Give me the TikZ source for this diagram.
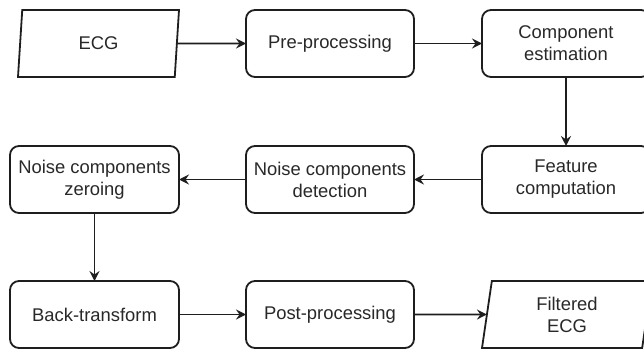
\documentclass[tikz,border=0pt]{standalone}
\usepackage{fontspec}
\setmainfont{Liberation Sans}
\usetikzlibrary{arrows.meta,shapes.geometric}
\definecolor{linecol}{RGB}{30,30,30}
\definecolor{textcol}{RGB}{40,40,40}
\begin{document}
\begin{tikzpicture}[x=1pt,y=-1pt,
  lbl/.style={align=center, text=textcol, font=\fontsize{18.4}{22}\selectfont},
  box/.style={lbl, draw=linecol, line width=1.8pt, rounded corners=9pt,
    minimum width=168pt, minimum height=67pt, inner sep=2pt, outer sep=0pt},
  io/.style={lbl, trapezium, trapezium left angle=76, trapezium right angle=104,
    trapezium stretches body, draw=linecol, line width=1.8pt,
    minimum height=67pt, inner sep=2pt, outer sep=0pt},
  conn/.style={draw=linecol, line width=1.8pt, -{Stealth[length=10pt,width=10pt,inset=3.5pt]}}
]
\useasboundingbox (0,0) rectangle (644,350);
\clip (0,0) rectangle (644,350);
% row 1
\node[io, minimum width=161pt] (ecg) at (98.5,43.5) {ECG};
\node[box] (pre) at (330,43.5) {Pre-processing};
\node[box] (comp) at (566,43.5) {Component\\estimation};
% row 2
\node[box, minimum width=169pt] (zero) at (94.5,179.5) {Noise components\\zeroing};
\node[box] (det) at (330,179.5) {Noise components\\detection};
\node[box] (feat) at (566,179.5) {Feature\\computation};
% row 3
\node[box, minimum width=169pt] (back) at (94.5,314.5) {Back-transform};
\node[box] (post) at (330,314.5) {Post-processing};
\node[io, minimum width=170pt] (filt) at (567,314.5) {Filtered\\ECG};
% connectors
\draw[conn] (ecg) -- (pre);
\draw[conn] (pre) -- (comp);
\draw[conn] (comp) -- (feat);
\draw[conn] (feat) -- (det);
\draw[conn] (det) -- (zero);
\draw[conn] (zero) -- (back);
\draw[conn] (back) -- (post);
\draw[conn] (post) -- (filt);
\end{tikzpicture}
\end{document}
